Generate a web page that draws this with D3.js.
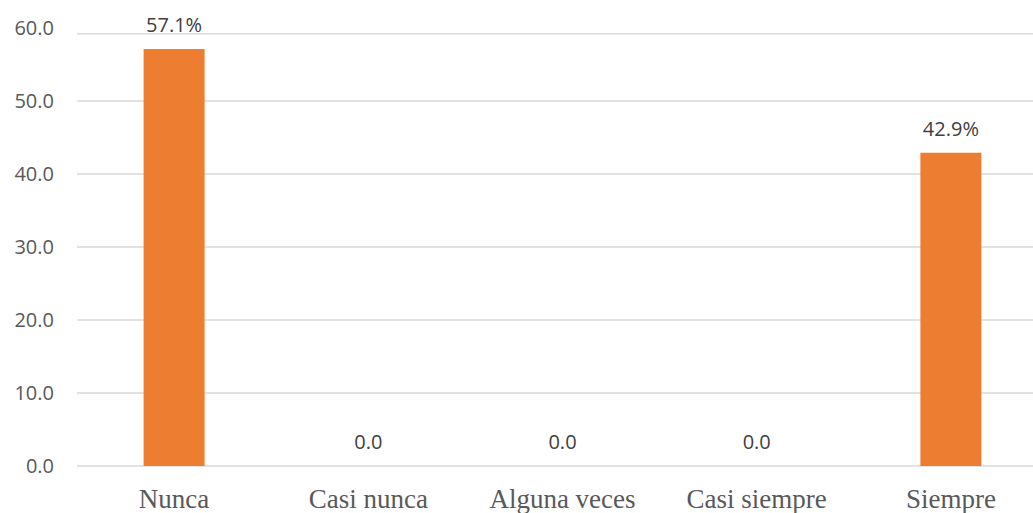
<!DOCTYPE html>
<meta charset="utf-8">
<script src="https://d3js.org/d3.v7.min.js"></script>
<style>
  body { margin: 0; background: #fff; }
</style>
<div id="my_dataviz"></div>
<script>
// data
var categories = ["Nunca", "Casi nunca", "Alguna veces", "Casi siempre", "Siempre"];
var values = [57.1, 0.0, 0.0, 0.0, 42.9];
var valueLabels = ["57.1%", "0.0", "0.0", "0.0", "42.9%"];
var yTicks = [0, 10, 20, 30, 40, 50, 60];

var width = 1033, height = 513;

var svg = d3.select("#my_dataviz")
  .append("svg")
    .attr("width", width)
    .attr("height", height);

// x scale - plot runs a bit past the right edge, like the source
var x = d3.scaleBand()
    .domain(categories)
    .range([77, 1048])
    .padding(0);

// y scale (top gridline sits slightly lower than a strict 60)
var y = d3.scaleLinear()
    .domain([0, 59.2])
    .range([466, 33.7])
    .clamp(true);
var yLabel = y.copy().clamp(false);

// gridlines
svg.append("g")
  .selectAll("line")
  .data(yTicks)
  .enter().append("line")
    .attr("x1", 77)
    .attr("x2", width)
    .attr("y1", d => y(d))
    .attr("y2", d => y(d))
    .attr("stroke", "#d9d9d9")
    .attr("stroke-width", 1.5);

// y labels
svg.append("g")
  .selectAll("text")
  .data(yTicks)
  .enter().append("text")
    .attr("x", 54)
    .attr("y", d => yLabel(d) + 7)
    .attr("text-anchor", "end")
    .style("font-family", "'Open Sans', sans-serif")
    .style("font-size", "20px")
    .style("fill", "#595959")
    .text(d => d.toFixed(1));

// bars
var barW = 61;
svg.append("g")
  .selectAll("rect")
  .data(values)
  .enter().append("rect")
    .attr("x", (d, i) => x(categories[i]) + x.bandwidth() / 2 - barW / 2)
    .attr("y", d => y(d))
    .attr("width", barW)
    .attr("height", d => y(0) - y(d))
    .attr("fill", "#ED7D31");

// value labels
svg.append("g")
  .selectAll("text")
  .data(values)
  .enter().append("text")
    .attr("x", (d, i) => x(categories[i]) + x.bandwidth() / 2)
    .attr("y", d => y(d) - 17)
    .attr("text-anchor", "middle")
    .style("font-family", "'Open Sans', sans-serif")
    .style("font-size", "20px")
    .style("fill", "#404040")
    .text((d, i) => valueLabels[i]);

// category labels
svg.append("g")
  .selectAll("text")
  .data(categories)
  .enter().append("text")
    .attr("x", d => x(d) + x.bandwidth() / 2)
    .attr("y", 508)
    .attr("text-anchor", "middle")
    .style("font-family", "'Liberation Serif', 'Times New Roman', serif")
    .style("font-size", "27px")
    .style("fill", "#595959")
    .text(d => d);
</script>
